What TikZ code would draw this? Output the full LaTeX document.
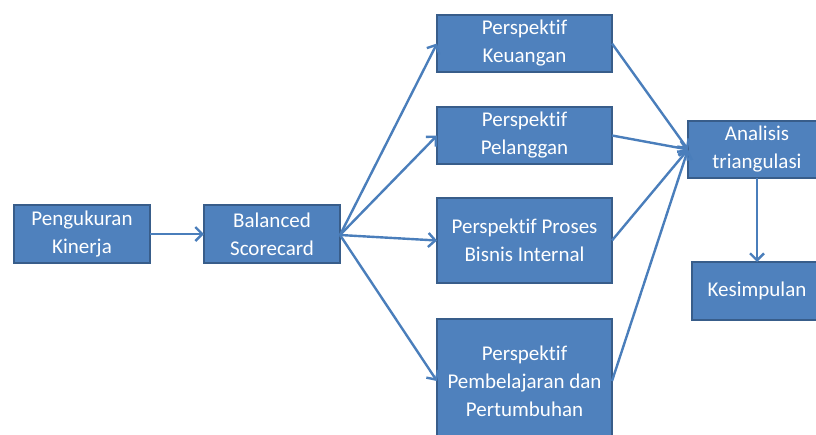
\documentclass[tikz,border=0pt]{standalone}
\usepackage{fontspec}
\setmainfont{Carlito}[Ligatures={NoCommon,NoContextual}]
\usetikzlibrary{arrows.meta}
\definecolor{boxfill}{HTML}{4F81BD}
\definecolor{boxline}{HTML}{385D8A}
\definecolor{arrowcol}{HTML}{4A7EBB}
\begin{document}
\begin{tikzpicture}[x=1pt,y=-1pt,
  box/.style={draw=boxline, line width=1.8pt, fill=boxfill, text=white, align=center,
    font=\fontsize{21}{28}\selectfont, inner sep=0pt, outer sep=0pt},
  conn/.style={draw=arrowcol, line width=2.4pt, -{Straight Barb[length=7pt,width=14pt,line width=2.4pt]}}]
\path[use as bounding box] (0,0) rectangle (816,434);
\clip (0,0) rectangle (816,434);
\node[box, minimum width=136pt, minimum height=58pt] (peng) at (82,234) {Pengukuran\\Kinerja};
\node[box, minimum width=136pt, minimum height=58pt] (bal) at (272,234) {Balanced\\Scorecard};
\node[box, minimum width=175pt, minimum height=57pt] (keu) at (524.5,43.5) {Perspektif\\Keuangan};
\node[box, minimum width=175pt, minimum height=57pt] (pel) at (524.5,135.5) {Perspektif\\Pelanggan};
\node[box, minimum width=175pt, minimum height=85pt] (pro) at (524.5,240.5) {Perspektif Proses\\Bisnis Internal};
\node[box, minimum width=175pt, minimum height=124pt] (pem) at (524.5,381) {Perspektif\\Pembelajaran dan\\Pertumbuhan};
\node[box, minimum width=138pt, minimum height=57pt] (ana) at (757,149.5) {Analisis\\triangulasi};
\node[box, minimum width=130pt, minimum height=58pt] (kes) at (757,291) {Kesimpulan};
\coordinate (bs) at ([yshift=-1pt]bal.east);
\draw[conn] (peng.east) -- (bal.west);
\draw[conn] (bs) -- (keu.west);
\draw[conn] (bs) -- (pel.west);
\draw[conn] (bs) -- (pro.west);
\draw[conn] (bs) -- (pem.west);
\draw[conn] (keu.east) -- (ana.west);
\draw[conn] (pel.east) -- (ana.west);
\draw[conn] (pro.east) -- (ana.west);
\draw[conn] (pem.east) -- (ana.west);
\draw[conn] (ana.south) -- (kes.north);
\end{tikzpicture}
\end{document}
